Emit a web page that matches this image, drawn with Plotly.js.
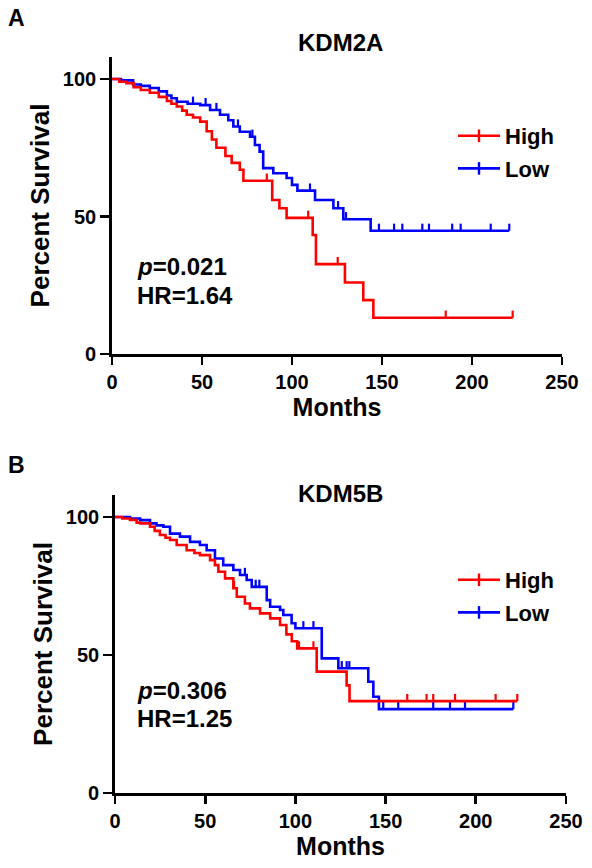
<!DOCTYPE html>
<html>
<head>
<meta charset="utf-8">
<script src="https://cdn.plot.ly/plotly-3.0.1.min.js"></script>
<style>html,body{margin:0;padding:0;background:#fff;} #chart{width:592px;height:868px;}</style>
</head>
<body>
<div id="chart"></div>
<script>
// ---------- Data ----------
// Panel A: KDM2A
const A_high_months = [0,4,8,12,16,21,26,30.5,33,36,39,41.5,45,49,52.6,55.5,58,63,66.5,71,73,89,93,97,111.5,113.3,129.4,139.6,145.2,222.6];
const A_high_surv   = [100,99,98.5,97,96,95,93.5,92,91,90,88.5,87,86,84.5,81,78,75,72,69.5,67,63,56,53,49.5,43.3,32.7,26,19.6,13.2,13.2];
const A_high_cens_months = [86,109,125.4,185.4,222.6];
const A_high_cens_surv   = [63,49.5,32.7,13.2,13.2];

const A_low_months = [0,5,11.7,16,21,26,30.5,33,36,42,49,54.5,60,64.6,67.4,71,76.7,79.4,82,84,89.6,97,100,103,112.8,123,128.5,143.7,220.7];
const A_low_surv   = [100,99.5,98,97.5,96.7,95.5,94,93,91.7,91,90.5,88.7,87,85,82.7,80.8,79,76,73.6,67.6,65.7,64,61.5,59.4,56,53,49,44.8,44.8];
const A_low_cens_months = [45,52,58,70,78,110,125.6,130,148.3,156.7,161.3,172.4,176.1,189,193.7,210.4,220.7];
const A_low_cens_surv   = [91,90.5,88.7,82.7,79,59.4,53,49,44.8,44.8,44.8,44.8,44.8,44.8,44.8,44.8,44.8];

// Panel B: KDM5B
const B_high_months = [0,4,8.3,12,14,19.4,22,24.9,28,30.5,34.2,39.7,44,47.1,52.7,55.4,57.3,61,65.6,67.5,72,74.8,80.4,86,91.5,95,98,101,111.8,128.4,130,223];
const B_high_surv   = [100,99.5,99,98,97.7,96.5,95,93.5,92.5,91.7,89.9,88,87,86.2,84.4,82.6,80.2,77.8,74.2,71.1,68.7,66.9,65.1,63.3,60.9,57.5,55,52.4,44,39,33.3,33.3];
const B_high_cens_months = [66,102,110,162,172.7,176.4,188.5,211,223];
const B_high_cens_surv   = [74.2,52.4,52.4,33.3,33.3,33.3,33.3,33.3,33.3];

const B_low_months = [0,8.3,13.9,19.4,23,26.8,30.5,36,41.6,47.1,50.8,55.4,60,65.6,69.3,73,75.8,84.1,86,91.5,93.3,97.9,100,114.6,123.8,140.4,143.2,146.3,220.8];
const B_low_surv   = [100,99.5,98.9,97.7,97,96.5,94,92.9,91,89.9,88,85,82.6,80.8,79,77.2,74.7,69.9,67.5,66.3,64.5,61.5,59.7,48.8,45.2,40.3,34.9,30.4,30.4];
const B_low_cens_months = [72,78,80,104.4,110,125.7,128.4,129.9,148.7,157,176.4,185.7,194,220.8];
const B_low_cens_surv   = [79,74.7,74.7,59.7,59.7,45.2,45.2,45.2,30.4,30.4,30.4,30.4,30.4,30.4];

const groupNames = ['High','Low'];
const panelTitles = ['KDM2A','KDM5B'];
const panelLetters = ['A','B'];
const pTexts = ['<i>p</i>=0.021','<i>p</i>=0.306'];
const hrTexts = ['HR=1.64','HR=1.25'];
const xTickVals = [0,50,100,150,200,250];
const yTickVals = [0,50,100];

// ---------- Styling ----------
const RED = 'rgb(255,0,0)';
const BLUE = 'rgb(0,0,255)';
const FONT = 'Liberation Sans, Arial, sans-serif';
const LW = 2.6;

function stepTrace(x, y, color, xa, ya) {
  return {x:x, y:y, xaxis:xa, yaxis:ya, type:'scatter', mode:'lines',
    line:{shape:'hv', color:color, width:LW}, showlegend:false, hoverinfo:'skip'};
}
function censorTrace(x, y, color, xa, ya) {
  return {x:x, y:y, xaxis:xa, yaxis:ya, type:'scatter', mode:'markers',
    marker:{size:1, opacity:0, color:color}, showlegend:false, hoverinfo:'skip',
    error_y:{type:'constant', value:2.6, valueminus:0, symmetric:false, thickness:2.2, width:0, color:color}};
}
function legendTrace(name, color, legend, xa, ya) {
  return {x:[null], y:[null], xaxis:xa, yaxis:ya, type:'scatter', mode:'lines+markers', name:name,
    legend:legend, legendgroup:legend+name,
    line:{color:color, width:LW},
    marker:{symbol:'line-ns-open', size:9, color:color, line:{color:color, width:2.4}}};
}

const traces = [
  stepTrace(A_low_months, A_low_surv, BLUE, 'x', 'y'),
  censorTrace(A_low_cens_months, A_low_cens_surv, BLUE, 'x', 'y'),
  stepTrace(A_high_months, A_high_surv, RED, 'x', 'y'),
  censorTrace(A_high_cens_months, A_high_cens_surv, RED, 'x', 'y'),
  legendTrace(groupNames[0], RED, 'legend', 'x', 'y'),
  legendTrace(groupNames[1], BLUE, 'legend', 'x', 'y'),

  stepTrace(B_low_months, B_low_surv, BLUE, 'x2', 'y2'),
  censorTrace(B_low_cens_months, B_low_cens_surv, BLUE, 'x2', 'y2'),
  stepTrace(B_high_months, B_high_surv, RED, 'x2', 'y2'),
  censorTrace(B_high_cens_months, B_high_cens_surv, RED, 'x2', 'y2'),
  legendTrace(groupNames[0], RED, 'legend2', 'x2', 'y2'),
  legendTrace(groupNames[1], BLUE, 'legend2', 'x2', 'y2')
];

// plot area = 566 x 793 px (margins r=26, b=75 leave room for labels without auto-pushing)
const PW = 566, PH = 793;
const px = v => v / PW;
const py = v => (PH - v) / PH;

function xAxis(domain, anchor) {
  return {domain:domain, anchor:anchor, range:[0,250], tickvals:xTickVals, ticktext:xTickVals.map(String),
    showline:true, linecolor:'#000', linewidth:2.8, ticks:'outside', ticklen:8, tickwidth:2.8, tickcolor:'#000',
    showgrid:false, zeroline:false, fixedrange:true,
    tickfont:{family:FONT, size:20, color:'#000', weight:'bold'},
    title:{text:'Months', font:{family:FONT, size:25, color:'#000', weight:'bold'}, standoff:5},
    automargin:true};
}
function yAxis(domain, anchor) {
  return {domain:domain, anchor:anchor, range:[0,108], tickvals:yTickVals, ticktext:yTickVals.map(String),
    showline:true, linecolor:'#000', linewidth:2.8, ticks:'outside', ticklen:9, tickwidth:2.8, tickcolor:'#000',
    showgrid:false, zeroline:false, fixedrange:true,
    tickfont:{family:FONT, size:20, color:'#000', weight:'bold'},
    title:{text:'Percent Survival', font:{family:FONT, size:26, color:'#000', weight:'bold'}, standoff:6},
    automargin:true};
}

const annots = [];
[[18, 43, 267, 295], [465, 493, 690, 718]].forEach((pos, i) => {
  annots.push({xref:'paper', yref:'paper', x:px(6), y:py(pos[0]), xanchor:'left', yanchor:'middle', showarrow:false,
    text:panelLetters[i], font:{family:FONT, size:23, color:'#000', weight:'bold'}});
  annots.push({xref:'paper', yref:'paper', x:px(340), y:py(pos[1]), xanchor:'center', yanchor:'middle', showarrow:false,
    text:panelTitles[i], font:{family:FONT, size:24, color:'#000', weight:'bold'}});
  annots.push({xref:'paper', yref:'paper', x:px(135), y:py(pos[2]), xanchor:'left', yanchor:'middle', showarrow:false,
    text:pTexts[i], font:{family:FONT, size:24, color:'#000', weight:'bold'}});
  annots.push({xref:'paper', yref:'paper', x:px(135), y:py(pos[3]), xanchor:'left', yanchor:'middle', showarrow:false,
    text:hrTexts[i], font:{family:FONT, size:24, color:'#000', weight:'bold'}});
});

function legendCfg(topPx) {
  return {x:px(453), y:py(topPx), xanchor:'left', yanchor:'top', bgcolor:'rgba(0,0,0,0)',
    font:{family:FONT, size:22, color:'#000', weight:'bold'}, itemwidth:42, tracegroupgap:1,
    traceorder:'grouped'};
}

const layout = {
  width:592, height:868, margin:{l:0, r:26, t:0, b:75, autoexpand:false}, paper_bgcolor:'#fff', plot_bgcolor:'#fff',
  xaxis: xAxis([px(112), px(562)], 'y'),
  yaxis: yAxis([py(354), py(57)], 'x'),
  xaxis2: xAxis([px(115), px(566)], 'y2'),
  yaxis2: yAxis([py(793), py(495)], 'x2'),
  legend: legendCfg(115),
  legend2: legendCfg(559),
  annotations: annots,
  showlegend:true
};

Plotly.newPlot('chart', traces, layout, {displayModeBar:false, staticPlot:true});
</script>
</body>
</html>
